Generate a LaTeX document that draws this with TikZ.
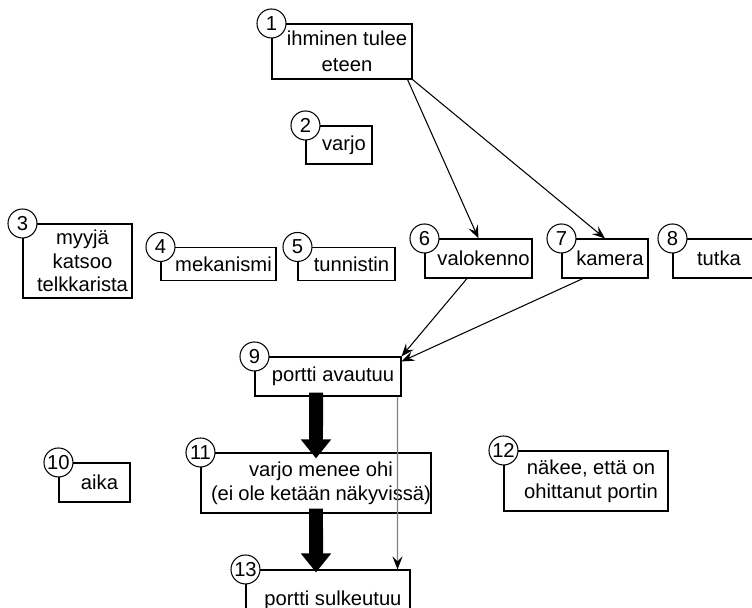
\documentclass[tikz,border=0pt]{standalone}
\usepackage{fontspec}
\setmainfont{Liberation Sans}
\usetikzlibrary{arrows.meta}
% text area starts a bit right of the box edge, next to the number circle
\newcommand{\inbox}[2]{\hspace*{0.2cm}\parbox{\dimexpr#1-0.2cm\relax}{\centering #2}}

\begin{document}
\begin{tikzpicture}[x=0.02cm, y=-0.02cm,
        every node/.style={font=\fontsize{11.5}{13.5}\selectfont},
        box/.style={draw, rectangle, inner sep=0pt, line width=0.6pt},
        num/.style={circle, draw, fill=white, inner sep=0pt, minimum size=0.58cm, line width=0.6pt},
        arr/.style={line width=0.6pt, -{Stealth[length=0.26cm, width=0.2cm, inset=0.1cm]}},
        garr/.style={line width=0.6pt, draw=gray, -{Stealth[length=0.26cm, width=0.2cm, inset=0.1cm, black]}},
        fat/.style={line width=0.28cm, -{Triangle[length=0.38cm, width=0.58cm]}}]
    \path[use as bounding box, clip] (0, 0) rectangle (752, 608);

    \node[box, minimum width=2.8cm, minimum height=1.1cm] (n1) at (342, 51.5) {\inbox{2.8cm}{ihminen tulee\\[1pt]eteen}};
    \node[box, minimum width=1.32cm, minimum height=0.76cm] (n2) at (339, 145) {\inbox{1.32cm}{varjo}};
    \node[box, minimum width=2.18cm, minimum height=1.48cm] (n3) at (77.5, 261) {\inbox{2.18cm}{myyjä\\katsoo\\telkkarista}};
    \node[box, minimum width=2.3cm, minimum height=0.66cm] (n4) at (218.5, 264) {\inbox{2.3cm}{mekanismi}};
    \node[box, minimum width=1.94cm, minimum height=0.66cm] (n5) at (346.5, 264) {\inbox{1.94cm}{tunnistin}};
    \node[box, minimum width=2.14cm, minimum height=0.78cm] (n6) at (478.5, 258.5) {\inbox{2.14cm}{valokenno}};
    \node[box, minimum width=1.72cm, minimum height=0.78cm] (n7) at (605, 258.5) {\inbox{1.72cm}{kamera}};
    \node[box, minimum width=1.64cm, minimum height=0.78cm] (n8) at (714, 258.5) {\inbox{1.64cm}{tutka}};
    \node[box, minimum width=2.92cm, minimum height=0.78cm] (n9) at (328, 376.5) {\inbox{2.92cm}{portti avautuu}};
    \node[box, minimum width=1.42cm, minimum height=0.78cm] (n10) at (94.5, 482.5) {\inbox{1.42cm}{aika}};
    \node[box, minimum width=4.6cm, minimum height=1.2cm] (n11) at (316, 483) {\inbox{4.6cm}{varjo menee ohi\\(ei~ole~ketään~näkyvissä)}};
    \node[box, minimum width=3.28cm, minimum height=1.2cm] (n12) at (586, 481) {\inbox{3.28cm}{näkee, että on\\ohittanut portin}};
    \node[box, minimum width=3.28cm, minimum height=1.2cm] (n13) at (328, 600) {\inbox{3.28cm}{portti sulkeutuu}};

    % arrows
    \draw[arr] ([xshift=-0.1cm]n1.south east) -- (n6.north);
    \draw[arr] (n1.south east) -- (n7.north);
    \draw[arr] ([xshift=-0.23cm]n6.south) -- (n9.north east);
    \draw[arr] ([xshift=-0.44cm]n7.south) -- ([yshift=-0.1cm]n9.north east);
    \draw[garr] ([xshift=-0.08cm]n9.south east) -- ([xshift=-0.26cm]n13.north east);
    \draw[fat] ([xshift=-0.24cm, yshift=0.08cm]n9.south) -- ([yshift=-0.12cm]n11.north);
    \draw[fat] ([yshift=0.1cm]n11.south) -- ([xshift=-0.24cm, yshift=-0.06cm]n13.north);

    % numbers
    \foreach \i in {1,...,13}
        \node[num] (c\i) at (n\i.north west) {\i};
\end{tikzpicture}
\end{document}
